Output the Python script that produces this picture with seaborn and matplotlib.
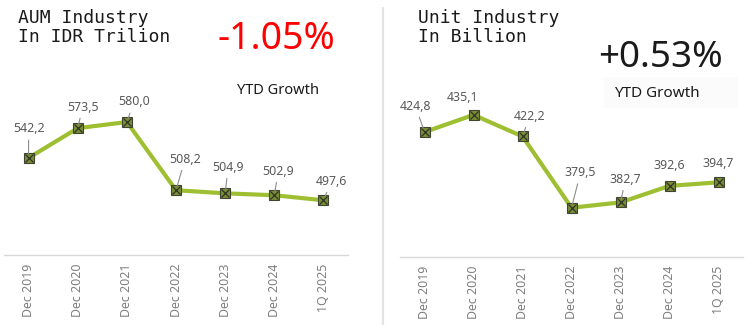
import matplotlib
matplotlib.use("Agg")
import matplotlib.pyplot as plt
import seaborn as sns
import pandas as pd
import numpy as np

categories = ["Dec 2019", "Dec 2020", "Dec 2021", "Dec 2022", "Dec 2023", "Dec 2024", "1Q 2025"]
aum_values = [542.2, 573.5, 580.0, 508.2, 504.9, 502.9, 497.6]
unit_values = [424.8, 435.1, 422.2, 379.5, 382.7, 392.6, 394.7]
aum_labels = ["542,2", "573,5", "580,0", "508,2", "504,9", "502,9", "497,6"]
unit_labels = ["424,8", "435,1", "422,2", "379,5", "382,7", "392,6", "394,7"]
aum_title = "AUM Industry\nIn IDR Trilion"
unit_title = "Unit Industry\nIn Billion"
aum_growth = "-1.05%"
unit_growth = "+0.53%"
growth_caption = "YTD Growth"

# label offsets in pixels (dx, dy) and whether a leader line is drawn
aum_offsets = [(0, 29), (5, 21), (7, 20), (9, 31), (3, 26), (4, 24), (8, 19)]
unit_offsets = [(-9, 26), (-11, 17), (7, 20), (9, 35), (5, 23), (0, 20), (0, 19)]
aum_leader = [True, True, True, True, True, True, True]
unit_leader = [True, False, True, True, True, False, False]

sns.set_theme(style="white")
plt.rcParams['font.family'] = ['Noto Sans', 'DejaVu Sans']

W, H = 753, 325
fig = plt.figure(figsize=(W / 100, H / 100), dpi=100)
fig.patch.set_facecolor("white")

def px_axes(x0, x1, ytop, ybot):
    return fig.add_axes([x0 / W, 1 - ybot / H, (x1 - x0) / W, (ybot - ytop) / H])

ax1 = px_axes(4, 348, 103, 255)
ax2 = px_axes(400, 743, 90, 257)

LINE = "#9FBF32"
LABEL_C = "#595959"
TICK_C = "#7F7F7F"
AXIS_C = "#D9D9D9"

def draw(ax, values, labels, offsets, leaders, ylim):
    df = pd.DataFrame({"pos": np.arange(len(categories)), "value": values})
    sns.lineplot(data=df, x="pos", y="value", ax=ax, color=LINE, linewidth=3.0,
                 marker="s", markersize=7.5, markerfacecolor="#7A8C35",
                 markeredgecolor="#3F4530", markeredgewidth=0.8, zorder=3)
    ax.plot(df["pos"], df["value"], linestyle="none", marker="x", markersize=6,
            color="#2F3325", markeredgewidth=0.9, zorder=4)
    ax.set_xlim(-0.5, len(categories) - 0.5)
    ax.set_ylim(*ylim)
    ax.set_xlabel("")
    ax.set_ylabel("")
    ax.set_yticks([])
    for s in ["top", "right", "left"]:
        ax.spines[s].set_visible(False)
    ax.spines["bottom"].set_color(AXIS_C)
    ax.spines["bottom"].set_linewidth(1.0)
    ax.set_xticks(np.arange(len(categories)))
    ax.set_xticklabels(categories, rotation=90, fontsize=8.9, color=TICK_C)
    ax.tick_params(axis="x", length=0, pad=6)
    ax.set_xticks(np.arange(len(categories) + 1) - 0.5, minor=True)
    ax.tick_params(axis="x", which="minor", length=5, color=AXIS_C, width=1.0, direction="out")
    ax.set_facecolor("none")
    for i, (v, lab, (dx, dy), ld) in enumerate(zip(values, labels, offsets, leaders)):
        ap = dict(arrowstyle="-", color="#8C8C8C", lw=0.8, shrinkA=1, shrinkB=3) if ld else None
        ax.annotate(lab, xy=(i, v), xytext=(dx * 0.72, dy * 0.72), textcoords="offset points",
                    ha="center", va="center", fontsize=8.9, color=LABEL_C,
                    arrowprops=ap, zorder=5)

draw(ax1, aum_values, aum_labels, aum_offsets, aum_leader, (440, 600))
draw(ax2, unit_values, unit_labels, unit_offsets, unit_leader, (350, 450))

# separator line
fig.add_artist(plt.Line2D([383 / W, 383 / W], [0, 1 - 8 / H], color="#E3E3E3", lw=1.6,
                          transform=fig.transFigure))

# faint box on right
fig.add_artist(plt.Rectangle((604 / W, 1 - 108 / H), 134 / W, 31 / H, transform=fig.transFigure,
                             facecolor="#FBFBFB", edgecolor="none", zorder=0))

# titles
fig.text(18 / W, 1 - 9 / H, aum_title, fontsize=13, family="DejaVu Sans Mono",
         color="#1A1A1A", va="top", ha="left", linespacing=1.05)
fig.text(418 / W, 1 - 9 / H, unit_title, fontsize=13, family="DejaVu Sans Mono",
         color="#1A1A1A", va="top", ha="left", linespacing=1.05)

fig.text(276 / W, 1 - 39 / H, aum_growth, fontsize=27, color="#FF0000", ha="center", va="center")
fig.text(278 / W, 1 - 90 / H, growth_caption, fontsize=10.5, color="#1A1A1A", ha="center", va="center")
fig.text(660 / W, 1 - 58 / H, unit_growth, fontsize=26.5, color="#1A1A1A", ha="center", va="center")
fig.text(657 / W, 1 - 94 / H, growth_caption, fontsize=11, color="#1A1A1A", ha="center", va="center")

fig.savefig("out.png", dpi=100, facecolor="white")
